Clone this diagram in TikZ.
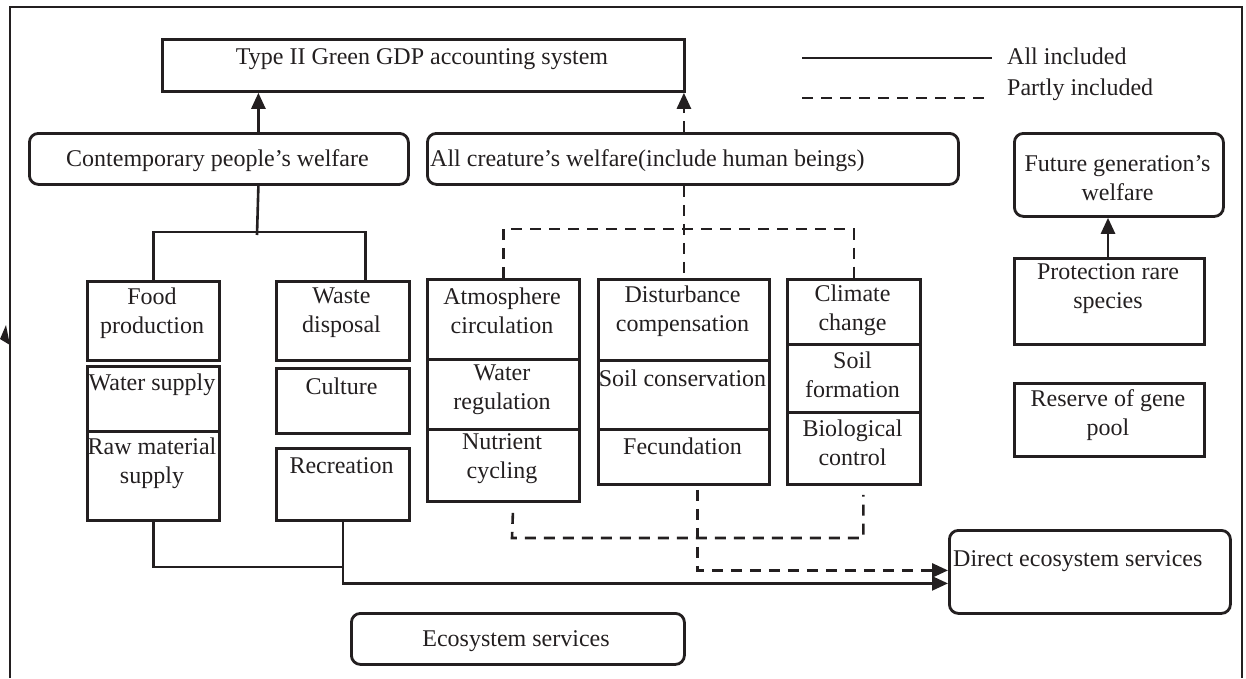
\documentclass[tikz,border=0pt]{standalone}
\usepackage{fontspec}
\setmainfont{Liberation Serif}
\usetikzlibrary{arrows.meta}
\definecolor{ink}{HTML}{231F20}
\begin{document}
\begin{tikzpicture}[x=1pt,y=-1pt,
  box/.style={draw=ink, line width=2.8pt, rectangle, inner sep=0pt, anchor=north west},
  rbox/.style={box, rounded corners=9pt},
  txt/.style={font=\fontsize{24}{29}\selectfont, text=ink, align=center, inner sep=0pt, yshift=-3pt},
  conn/.style={draw=ink, line width=2.6pt},
  dconn/.style={conn, dash pattern=on 11pt off 8pt},
  tip/.style={-{Triangle[length=16pt,width=14pt]}},
]
\useasboundingbox (0,0) rectangle (1246,678);
% frame
\coordinate (fbl) at (10,678);
\coordinate (ftl) at (10,7);
\coordinate (ftr) at (1242,7);
\coordinate (fbr) at (1242,678);
\draw[conn] (fbl) -- (ftl) -- (ftr) -- (fbr);
\fill[ink] (6,325) -- (0,339) -- (10,345) -- cycle;

% boxes
\node[box, minimum width=522pt, minimum height=52pt] (typeii) at (161,38) {};
\node[rbox, minimum width=379pt, minimum height=51pt] (contemp) at (28,132) {};
\node[rbox, minimum width=531pt, minimum height=51pt] (creature) at (426,132) {};
\node[rbox, minimum width=209pt, minimum height=83pt] (future) at (1013,132) {};
\node[box, minimum width=190pt, minimum height=86pt] (prot) at (1013,257) {};
\node[box, minimum width=190pt, minimum height=73pt] (reserve) at (1013,382) {};
\node[rbox, minimum width=281pt, minimum height=83pt] (direct) at (948,529) {};
\node[rbox, minimum width=333pt, minimum height=51pt] (eco) at (350,612) {};

\node[box, minimum width=132pt, minimum height=79pt] (food) at (86,280) {};
\node[box, minimum width=132pt, minimum height=65pt] (water) at (86,365) {};
\node[box, minimum width=132pt, minimum height=89pt] (raw) at (86,430) {};
\node[box, minimum width=133pt, minimum height=79pt] (waste) at (275,280) {};
\node[box, minimum width=133pt, minimum height=65pt] (culture) at (275,367) {};
\node[box, minimum width=133pt, minimum height=72pt] (recr) at (275,447) {};

\node[box, minimum width=152pt, minimum height=80pt] (atm1) at (426,278) {};
\node[box, minimum width=152pt, minimum height=70pt] (atm2) at (426,358) {};
\node[box, minimum width=152pt, minimum height=72pt] (atm3) at (426,428) {};
\node[box, minimum width=171pt, minimum height=81pt] (dist1) at (597,278) {};
\node[box, minimum width=171pt, minimum height=69pt] (dist2) at (597,359) {};
\node[box, minimum width=171pt, minimum height=55pt] (dist3) at (597,428) {};
\node[box, minimum width=133pt, minimum height=65pt] (clim1) at (786,278) {};
\node[box, minimum width=133pt, minimum height=68pt] (clim2) at (786,343) {};
\node[box, minimum width=133pt, minimum height=72pt] (clim3) at (786,411) {};

% texts
\node[txt] (t-typeii) at (422,56) {Type II Green GDP accounting system};
\node[txt] (t-contemp) at (217.5,158) {Contemporary people’s welfare};
\node[txt, anchor=west] (t-creature) at (430,158) {All creature’s welfare(include human beings)};
\node[txt] (t-future) at (1117.5,175) {Future generation’s\\welfare};
\node[txt] (t-prot) at (1108,286) {Protection rare\\species};
\node[txt] (t-reserve) at (1108,412) {Reserve of gene\\pool};
\node[txt, anchor=west] (t-direct) at (953,558) {Direct ecosystem services};
\node[txt] (t-eco) at (516,638) {Ecosystem services};
\node[txt] (t-food) at (152,310) {Food\\production};
\node[txt] (t-water) at (152,382) {Water supply};
\node[txt] (t-raw) at (152,460) {Raw material\\supply};
\node[txt] (t-waste) at (341.5,310) {Waste\\disposal};
\node[txt] (t-culture) at (341.5,383) {Culture};
\node[txt] (t-recr) at (341.5,463) {Recreation};
\node[txt] (t-atm1) at (502,308) {Atmosphere\\circulation};
\node[txt] (t-atm2) at (502,387) {Water\\regulation};
\node[txt] (t-atm3) at (502,456) {Nutrient\\cycling};
\node[txt] (t-dist1) at (682.5,308) {Disturbance\\compensation};
\node[txt] (t-dist2) at (682.5,375) {Soil conservation};
\node[txt] (t-dist3) at (682.5,443) {Fecundation};
\node[txt] (t-clim1) at (852.5,307) {Climate\\change};
\node[txt] (t-clim2) at (852.5,372) {Soil\\formation};
\node[txt] (t-clim3) at (852.5,440) {Biological\\control};

% legend
\coordinate (ls1) at (802,58);
\coordinate (ls2) at (992,58);
\coordinate (ld1) at (802,98);
\coordinate (ld2) at (992,98);
\draw[conn] (ls1) -- (ls2);
\draw[dconn] (ld1) -- (ld2);
\node[txt, anchor=west] (t-all) at (1007,53) {All included};
\node[txt, anchor=west] (t-part) at (1007,87) {Partly included};

% solid connectors
\draw[conn, tip] ([xshift=39.5pt]contemp.north) -- ([xshift=-165pt]typeii.south);
\coordinate (tj) at (257,232);
\draw[conn] ([xshift=39.5pt]contemp.south) -- ([yshift=-3pt]tj);
\draw[conn] (food.north) |- (tj) -| ([xshift=22.5pt]waste.north);
\draw[conn, tip] (prot.north -| 1108,0) -- (future.south -| 1108,0);
\coordinate (rj) at (341.5,567);
\draw[conn] (raw.south) |- (rj);
\draw[conn, tip] (recr.south) |- ([yshift=-11.5pt]direct.west);

% dashed connectors
\draw[dconn, tip] (creature.north -| dist1.north) -- (typeii.south -| dist1.north);
\coordinate (dj) at (682.5,229);
\draw[dconn] (creature.south -| dist1.north) -- (dist1.north);
\draw[dconn] (atm1.north) |- (dj) -| (clim1.north);
\coordinate (bl) at (512,538);
\draw[dconn] ([xshift=9.5pt,yshift=-10pt]atm3.south) -- (bl) -| ([xshift=9.5pt,yshift=-9pt]clim3.south);
\draw[dconn, tip] ([xshift=13.5pt,yshift=-4pt]dist3.south) |- ([yshift=1.5pt]direct.west);
\end{tikzpicture}
\end{document}
